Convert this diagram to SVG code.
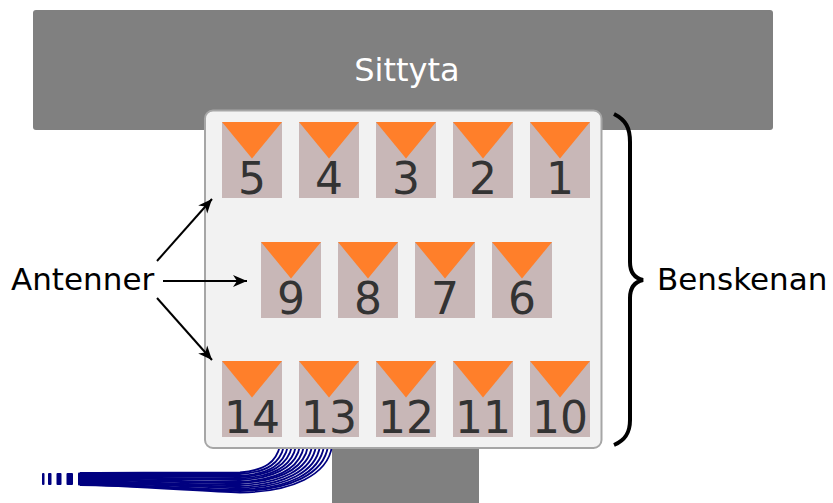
<svg xmlns="http://www.w3.org/2000/svg" width="833" height="503" viewBox="0 0 833 503">
<style>
.lbl{font-family:"DejaVu Sans",Verdana,sans-serif;font-size:31px;fill:#000}
.num{font-family:"DejaVu Sans",Verdana,sans-serif;font-size:44px;fill:#333;text-anchor:middle}
.sq{fill:#c8b7b7}
.tri{fill:#ff7f2a}
.arr{stroke:#000;stroke-width:2;fill:none;marker-end:url(#ah)}
.cable{stroke:#000080;stroke-width:1.8;fill:none}
</style>
<defs>
<marker id="ah" markerUnits="userSpaceOnUse" markerWidth="20" markerHeight="20" refX="0" refY="0" viewBox="-16 -8 20 16" orient="auto" overflow="visible">
<path d="M-14,-6 L0,0 L-14,6 L-10,0 Z" fill="#000"/>
</marker>
<g id="ant">
<rect class="sq" x="0" y="0" width="60" height="76"/>
<path class="tri" d="M0,0 H60 L30,36.5 Z"/>
</g>
</defs>

<g id="stand"><rect x="332" y="440" width="147" height="63" fill="#808080"/></g>

<g id="seat">
<rect x="33" y="10" width="740" height="120" rx="3" fill="#808080"/>
<text x="407" y="81" text-anchor="middle" font-family="DejaVu Sans, Verdana, sans-serif" font-size="32" fill="#fff">Sittyta</text>
</g>

<g id="cables">
<path class="cable" d="M280,446 C276,462 266,470 240,472.5 C200,473 120,472 80,473"/>
<path class="cable" d="M284,446 C280,463 268,472 240,474 C200,474 120,474 80,474"/>
<path class="cable" d="M288,446 C284,464 270,474 240,476 C200,475 120,475 80,475"/>
<path class="cable" d="M292,446 C288,465 272,475 240,477 C200,477 120,476 80,476"/>
<path class="cable" d="M296,446 C292,466 274,477 240,478.5 C200,479 120,477 80,477"/>
<path class="cable" d="M300,446 C296,467 276,478 240,480 C200,480 120,478 80,478"/>
<path class="cable" d="M304,446 C300,468 278,480 240,482 C200,482 120,479 80,479"/>
<path class="cable" d="M308,446 C304,469 280,481 240,483 C200,483 120,480 80,480"/>
<path class="cable" d="M312,446 C308,470 282,483 240,485 C200,485 120,481 80,481"/>
<path class="cable" d="M316,446 C312,471 284,485 240,487 C200,486 120,482 80,482"/>
<path class="cable" d="M320,446 C316,472 286,487 240,488.5 C200,487 120,483 80,483"/>
<path class="cable" d="M324,446 C320,473 288,489 240,490 C200,489 120,484 80,484"/>
<path class="cable" d="M328,446 C324,474 290,490 240,491 C200,490 120,484.5 80,484.5"/>
<path class="cable" d="M332,446 C328,475 292,492 240,492.5 C200,491 120,485 80,485"/>
<rect x="42" y="473" width="2.5" height="12" rx="1" fill="#000080"/>
<rect x="48" y="473" width="3.5" height="12" rx="1" fill="#000080"/>
<rect x="56.5" y="473" width="5" height="12" rx="1" fill="#000080"/>
<rect x="66.5" y="473" width="6.5" height="12" rx="1" fill="#000080"/>
<rect x="78" y="472.5" width="6" height="13" rx="1" fill="#000080"/>
</g>

<g id="benskenan">
<rect x="205" y="110.5" width="396.5" height="337.5" rx="8" fill="#f2f2f2" stroke="#a6a6a6" stroke-width="2"/>
</g>

<g id="a5"><use href="#ant" x="222" y="122"/><text class="num" x="252" y="194">5</text></g>
<g id="a4"><use href="#ant" x="299" y="122"/><text class="num" x="329" y="194">4</text></g>
<g id="a3"><use href="#ant" x="376" y="122"/><text class="num" x="406" y="194">3</text></g>
<g id="a2"><use href="#ant" x="453" y="122"/><text class="num" x="483" y="194">2</text></g>
<g id="a1"><use href="#ant" x="530" y="122"/><text class="num" x="560" y="194">1</text></g>

<g id="a9"><use href="#ant" x="261" y="242"/><text class="num" x="291" y="314">9</text></g>
<g id="a8"><use href="#ant" x="338" y="242"/><text class="num" x="368" y="314">8</text></g>
<g id="a7"><use href="#ant" x="415" y="242"/><text class="num" x="445" y="314">7</text></g>
<g id="a6"><use href="#ant" x="492" y="242"/><text class="num" x="522" y="314">6</text></g>

<g id="a14"><use href="#ant" x="222" y="361"/><text class="num" x="252" y="433">14</text></g>
<g id="a13"><use href="#ant" x="299" y="361"/><text class="num" x="329" y="433">13</text></g>
<g id="a12"><use href="#ant" x="376" y="361"/><text class="num" x="406" y="433">12</text></g>
<g id="a11"><use href="#ant" x="453" y="361"/><text class="num" x="483" y="433">11</text></g>
<g id="a10"><use href="#ant" x="530" y="361"/><text class="num" x="560" y="433">10</text></g>

<g id="antenner-label"><text class="lbl" x="11" y="290">Antenner</text></g>
<g id="benskenan-label"><text class="lbl" x="657" y="290">Benskenan</text></g>

<g id="connectors">
<path class="arr" d="M157,261 L212,199"/>
<path class="arr" d="M163,281 L247,281"/>
<path class="arr" d="M157,298 L212,360"/>
<path d="M614,114 C626,120 630,128 630,142 L630,262 C630,272 634,278 643,280 C634,282 630,288 630,298 L630,420 C630,432 626,440 614,445" fill="none" stroke="#000" stroke-width="4"/>
</g>
</svg>
